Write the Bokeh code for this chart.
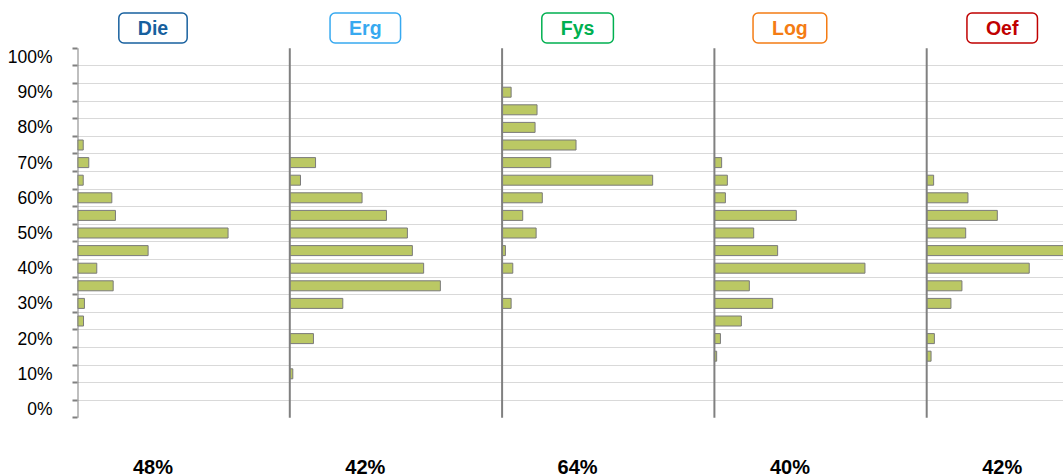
from bokeh.plotting import figure
from bokeh.models import ColumnDataSource, FixedTicker, Label
from bokeh.embed import file_html
from bokeh.resources import INLINE

# ---- data ----
bins = [0, 5, 10, 15, 20, 25, 30, 35, 40, 45, 50, 55, 60, 65, 70, 75, 80, 85, 90, 95, 100]
tick_values = [0, 10, 20, 30, 40, 50, 60, 70, 80, 90, 100]
tick_labels = ["0%", "10%", "20%", "30%", "40%", "50%", "60%", "70%", "80%", "90%", "100%"]

panels = ["Die", "Erg", "Fys", "Log", "Oef"]
panel_colors = ["#17609e", "#37a9f0", "#00b050", "#f47c14", "#c00000"]
panel_scores = ["48%", "42%", "64%", "40%", "42%"]

die = [0, 0, 0, 0, 0, 4.0, 4.6, 23.7, 12.8, 46.9, 100, 25.2, 22.8, 3.8, 7.5, 3.8, 0, 0, 0, 0, 0]
erg = [0, 0, 2.0, 0, 15.7, 0, 35.2, 100, 88.9, 81.4, 78.1, 64.2, 48.0, 7.1, 17.1, 0, 0, 0, 0, 0, 0]
fys = [0, 0, 0, 0, 0, 0, 6.0, 0, 7.1, 2.2, 22.6, 13.7, 26.7, 100, 32.3, 49.1, 21.9, 23.2, 6.0, 0, 0]
log = [0, 0, 0, 1.5, 4.0, 17.9, 38.7, 23.2, 100, 42.0, 26.1, 54.4, 7.3, 8.6, 4.8, 0, 0, 0, 0, 0, 0]
oef = [0, 0, 0, 2.9, 5.1, 0, 16.1, 23.4, 68.1, 100, 25.9, 46.9, 27.4, 4.6, 0, 0, 0, 0, 0, 0, 0]
series = [die, erg, fys, log, oef]

# ---- layout constants ----
PANEL_SPAN = 141.0          # x units per panel
W, H = 1063, 476
BL = 77
frame_w = W - BL
panel_px = 212.3
x_end = PANEL_SPAN * frame_w / panel_px
axis_lo, axis_hi = -2.5, 102.5          # extent of the category axis
axis_top_px, axis_bot_px = 47.7, 417.3  # page rows of the axis ends
px_per_y = (axis_bot_px - axis_top_px) / (axis_hi - axis_lo)
y_start = axis_lo - (H - axis_bot_px) / px_per_y
y_end = axis_hi + axis_top_px / px_per_y
units_per_px_x = PANEL_SPAN / panel_px
label_dx = 75.5 * units_per_px_x

p = figure(width=W, height=H, output_backend="svg", toolbar_location=None,
           x_range=(0, x_end), y_range=(y_start, y_end),
           min_border_left=BL, min_border_right=0, min_border_top=0, min_border_bottom=0)
p.outline_line_color = None
p.background_fill_color = "white"
p.border_fill_color = "white"
p.xaxis.visible = False
p.xgrid.visible = False

# y axis: labels at every 10%, boundary ticks between categories
ax = p.yaxis[0]
ax.ticker = FixedTicker(ticks=tick_values, minor_ticks=[b - 2.5 for b in bins] + [bins[-1] + 2.5])
ax.major_label_overrides = {v: t for v, t in zip(tick_values, tick_labels)}
ax.major_tick_out = 0
ax.major_tick_in = 0
ax.minor_tick_out = 5
ax.minor_tick_in = 0
ax.minor_tick_line_color = "#808080"
ax.minor_tick_line_width = 2
ax.axis_line_color = None
ax.major_label_standoff = 20
ax.major_label_text_font = "Liberation Sans"
ax.major_label_text_font_size = "17.5px"
ax.major_label_text_color = "#000000"

g = p.ygrid[0]
g.ticker = FixedTicker(ticks=[b + 2.5 for b in bins[:-1]])
g.grid_line_color = "#d9d9d9"
g.grid_line_width = 1.2

# bars
ys, lefts, rights = [], [], []
for i, vals in enumerate(series):
    off = i * PANEL_SPAN
    for b, v in zip(bins, vals):
        if v > 0:
            ys.append(b)
            lefts.append(off)
            rights.append(off + v)
src = ColumnDataSource(dict(y=ys, left=lefts, right=rights))
p.hbar(y="y", left="left", right="right", height=10 / px_per_y, source=src,
       fill_color="#bbc864", line_color="#7a7a7a", line_width=1)

# panel axis lines
offs = [i * PANEL_SPAN for i in range(len(panels))]
p.segment(x0=offs, y0=[axis_lo] * len(offs), x1=offs, y1=[axis_hi] * len(offs),
          line_color="#808080", line_width=2)

# titles and scores
title_y = axis_hi + (axis_top_px - 27.5) / px_per_y
score_y = axis_lo - (466.0 - axis_bot_px) / px_per_y
for i, (name, col, sc) in enumerate(zip(panels, panel_colors, panel_scores)):
    cx = offs[i] + label_dx
    p.add_layout(Label(x=cx, y=title_y, text=name, text_align="center", text_baseline="middle",
                       text_font="Liberation Sans", text_font_style="bold", text_font_size="19.5px",
                       text_color=col, border_line_color=col, border_line_width=1.5,
                       border_radius=5, background_fill_color="white", padding=(19, 4)))
    p.add_layout(Label(x=cx, y=score_y, text=sc, text_align="center", text_baseline="middle",
                       text_font="Liberation Sans", text_font_style="bold", text_font_size="20px",
                       text_color="#000000"))

open("out.html", "w").write(file_html(p, INLINE))
